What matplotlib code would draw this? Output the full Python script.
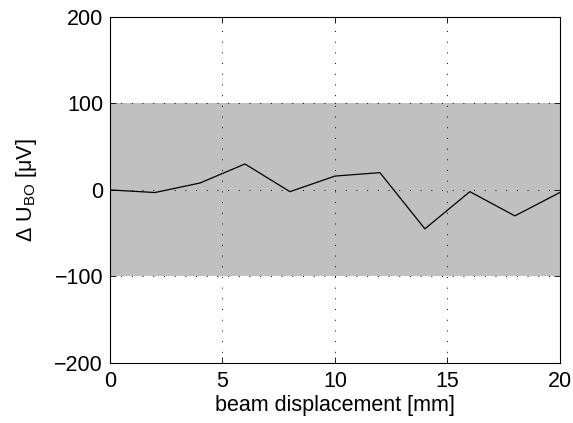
import matplotlib
matplotlib.use("Agg")
import matplotlib.pyplot as plt

plt.rcParams['font.family'] = ['Liberation Sans', 'DejaVu Sans']
plt.rcParams['mathtext.fontset'] = 'custom'
plt.rcParams['mathtext.rm'] = 'Liberation Sans'
plt.rcParams['mathtext.it'] = 'Liberation Sans'

# beam displacement [mm] and offset voltage change [uV]
displacement = [0, 2, 4, 6, 8, 10, 12, 14, 16, 18, 20]
delta_u = [0, -3, 8, 30, -2, 16, 20, -45, -2, -30, -3]
band_low, band_high = -100, 100
x_ticks = [0, 5, 10, 15, 20]
y_ticks = [-200, -100, 0, 100, 200]

fig = plt.figure(figsize=(5.73, 4.23), dpi=100)
ax = fig.add_axes([0.192, 0.142, 0.785, 0.818])

ax.axhspan(band_low, band_high, color='#c0c0c0', lw=0, zorder=0)
ax.plot(displacement, delta_u, color='black', lw=0.9, zorder=3)

ax.set_xlim(0, 20)
ax.set_ylim(-200, 200)
ax.set_xticks(x_ticks)
ax.set_yticks(y_ticks)
ax.set_yticklabels(['\u2212200', '\u2212100', '0', '100', '200'])
ax.grid(True, color='black', linestyle=(0, (1, 10)), lw=0.7, zorder=1)
ax.set_axisbelow(False)
ax.tick_params(direction='in', top=True, right=True, labelsize=15.5, length=4, width=0.6)
ax.tick_params(axis='x', pad=6)
ax.tick_params(axis='y', pad=5)
for s in ax.spines.values():
    s.set_linewidth(0.8)

ax.set_xlabel('beam displacement [mm]', fontsize=15.5, labelpad=2)
ax.set_ylabel('\u0394 U$_{\\mathrm{BO}}$ [\u03bcV]', fontsize=15.5, labelpad=11)

fig.savefig('out.png', dpi=100)
